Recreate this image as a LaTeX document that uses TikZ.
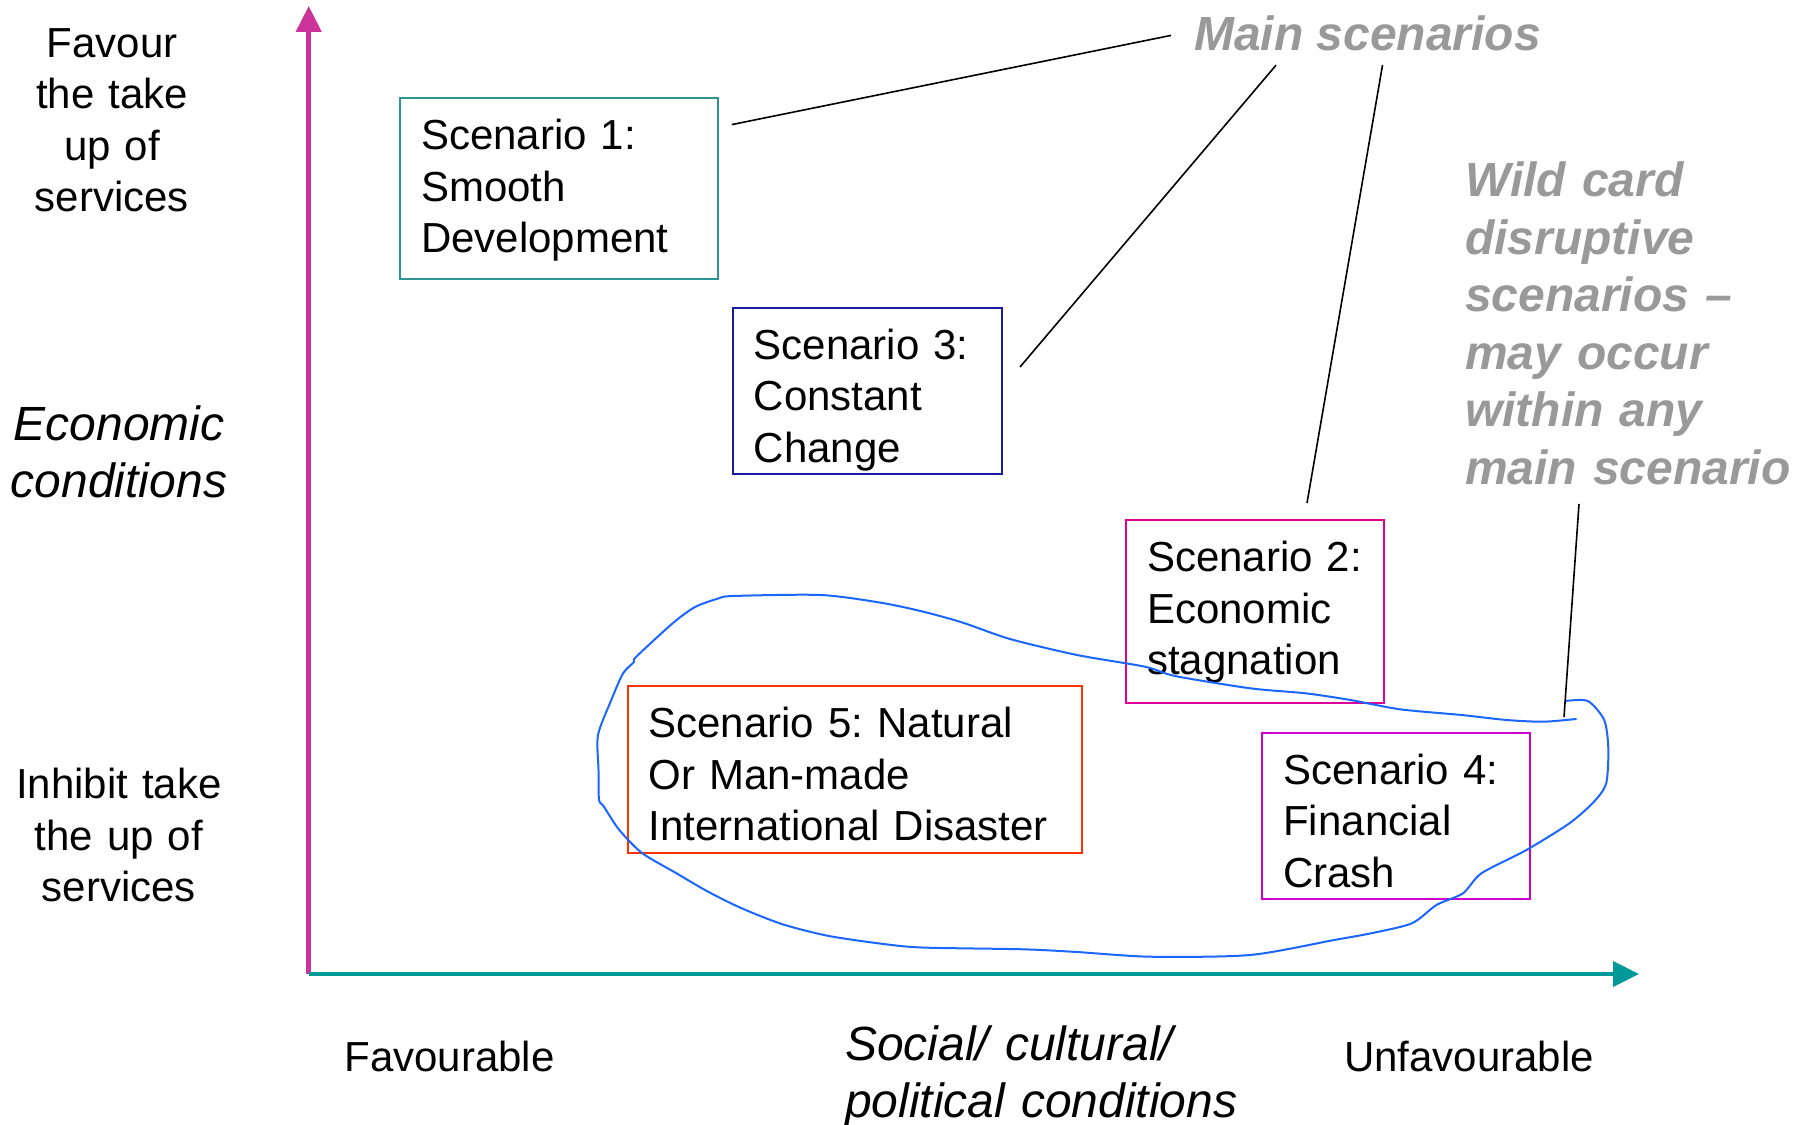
\documentclass[tikz,border=0pt]{standalone}
\usepackage{fontspec}
\setmainfont{Liberation Sans}
\usetikzlibrary{arrows.meta}
\frenchspacing
\definecolor{axmag}{HTML}{CC3399}
\definecolor{axteal}{HTML}{009999}
\definecolor{cteal}{HTML}{2E9494}
\definecolor{cnavy}{HTML}{1A1AA0}
\definecolor{cmag}{HTML}{DD0099}
\definecolor{cpurp}{HTML}{CC00CC}
\definecolor{cred}{HTML}{FF3300}
\definecolor{cblue}{HTML}{1A66FF}
\definecolor{cgray}{HTML}{999999}
\begin{document}
\begin{tikzpicture}[x=1pt,y=-1pt,
  scbox/.style={draw, line width=2pt, anchor=north west, align=left,
    inner xsep=21pt, inner ysep=0pt, text height=51.5pt,
    font={\fontsize{42}{51.5}\selectfont}},
  sidelabel/.style={align=center, text width=240pt, inner sep=0pt, anchor=base,
    font={\fontsize{42}{51.5}\selectfont}},
  axistitle/.style={inner sep=0pt, font={\fontsize{48}{57}\selectfont\itshape}},
  graylabel/.style={inner sep=0pt, text=cgray, align=left,
    font={\fontsize{48}{57.6}\selectfont\bfseries\itshape}},
  leader/.style={draw=black, line width=1.6pt},
  xaxis/.style={line width=4.3pt, axteal, -{Triangle[length=26pt,width=25pt]}},
  yaxis/.style={line width=4.5pt, axmag, -{Triangle[length=26pt,width=25pt]}},
  wildcurve/.style={draw=cblue, line width=2pt, line join=round, line cap=round}
]
\useasboundingbox (0,0) rectangle (1793,1124);

% axes
\coordinate (O) at (308.7,974);
\coordinate (ytop) at (308.7,6);
\coordinate (xend) at (1639,974);
\draw[yaxis] (O) -- (ytop);
\draw[xaxis] (O) -- (xend);

% side labels
\node[sidelabel] (fav) at (112,57.4) {Favour\\the take\\up of\\services};
\node[axistitle, align=center, text width=260pt, anchor=base] (econ) at (119,440) {Economic\\conditions};
\node[sidelabel] (inh) at (119,798.5) {Inhibit take\\the up of\\services};

% bottom labels
\node[sidelabel, anchor=base] (favb) at (449.4,1071) {Favourable};
\node[sidelabel, anchor=base] (unfav) at (1464,1071) {Unfavourable};
\node[axistitle, align=left, text width=440pt, anchor=base west] (soc) at (845,1060) {Social/ cultural/\\political conditions};

% scenario boxes
\node[scbox, draw=cteal, text width=275.9pt, text depth=129.2pt] (s1) at (399.1,97.2) {Scenario 1:\\Smooth\\Development};
\node[scbox, draw=cnavy, text width=226.8pt, text depth=115.4pt] (s3) at (731.8,306.5) {Scenario 3:\\Constant\\Change};
\node[scbox, draw=cmag, text width=215.3pt, text depth=131.4pt] (s2) at (1125.2,519.2) {Scenario 2:\\Economic\\stagnation};
\node[scbox, draw=cpurp, text width=225.6pt, text depth=114.4pt] (s4) at (1261.3,731.8) {Scenario 4:\\Financial\\Crash};
\node[scbox, draw=cred, text width=412pt, text depth=115.4pt] (s5) at (626.6,685) {Scenario 5: Natural\\Or Man-made\\International Disaster};

% gray annotations
\node[graylabel, anchor=base west] (main) at (1194,50.5) {Main scenarios};
\node[graylabel, text width=330pt, anchor=base west] (wild) at (1465,196.4) {Wild card\\disruptive\\scenarios –\\may occur\\within any\\main scenario};

% wild card loop
\draw[wildcurve] plot[smooth, tension=0.45] coordinates {
 (1576,719) (1543.4,721.7) (1506.6,720) (1461.5,715) (1400,709.3) (1350.5,700)
 (1305.5,693.3) (1250.2,688.3) (1175,676) (1145,666.7) (1077,655) (1010,639)
 (963,622.7) (924.5,612) (882.6,603) (821,595) (733,596) (718,598.6) (695,607)
 (672.4,623.5) (636,657) (634,662) (623,673.4) (611.3,700) (598,735) (598.5,770)
 (599,799.7) (603.7,806.3) (619,829.6) (642,853) (676,873) (706.8,891) (741,908)
 (783,924.4) (829,936) (886,944.3) (924.4,947.6) (1023.7,949.3) (1077,952)
 (1150,956.7) (1250.2,955) (1334.1,940) (1371,933.3) (1411.9,923.3) (1436.4,905)
 (1463,893.3) (1481.4,873.3) (1526.4,850) (1569.4,823.3) (1594,801.7)
 (1606.2,783.3) (1608.3,748.3) (1604.2,720) (1587.8,701) (1565.3,701)};

% leader lines
\coordinate (m1) at (1171,35.4);
\coordinate (m2) at (1276,65.2);
\coordinate (m3) at (1382.5,65.2);
\coordinate (e1) at (731.8,124.6);
\coordinate (e3) at (1020,367);
\coordinate (e2) at (1307,503);
\coordinate (w1) at (1579,504);
\coordinate (e5) at (1564,717);
\draw[leader] (m1) -- (e1);
\draw[leader] (m2) -- (e3);
\draw[leader] (m3) -- (e2);
\draw[leader] (w1) -- (e5);
\end{tikzpicture}
\end{document}
